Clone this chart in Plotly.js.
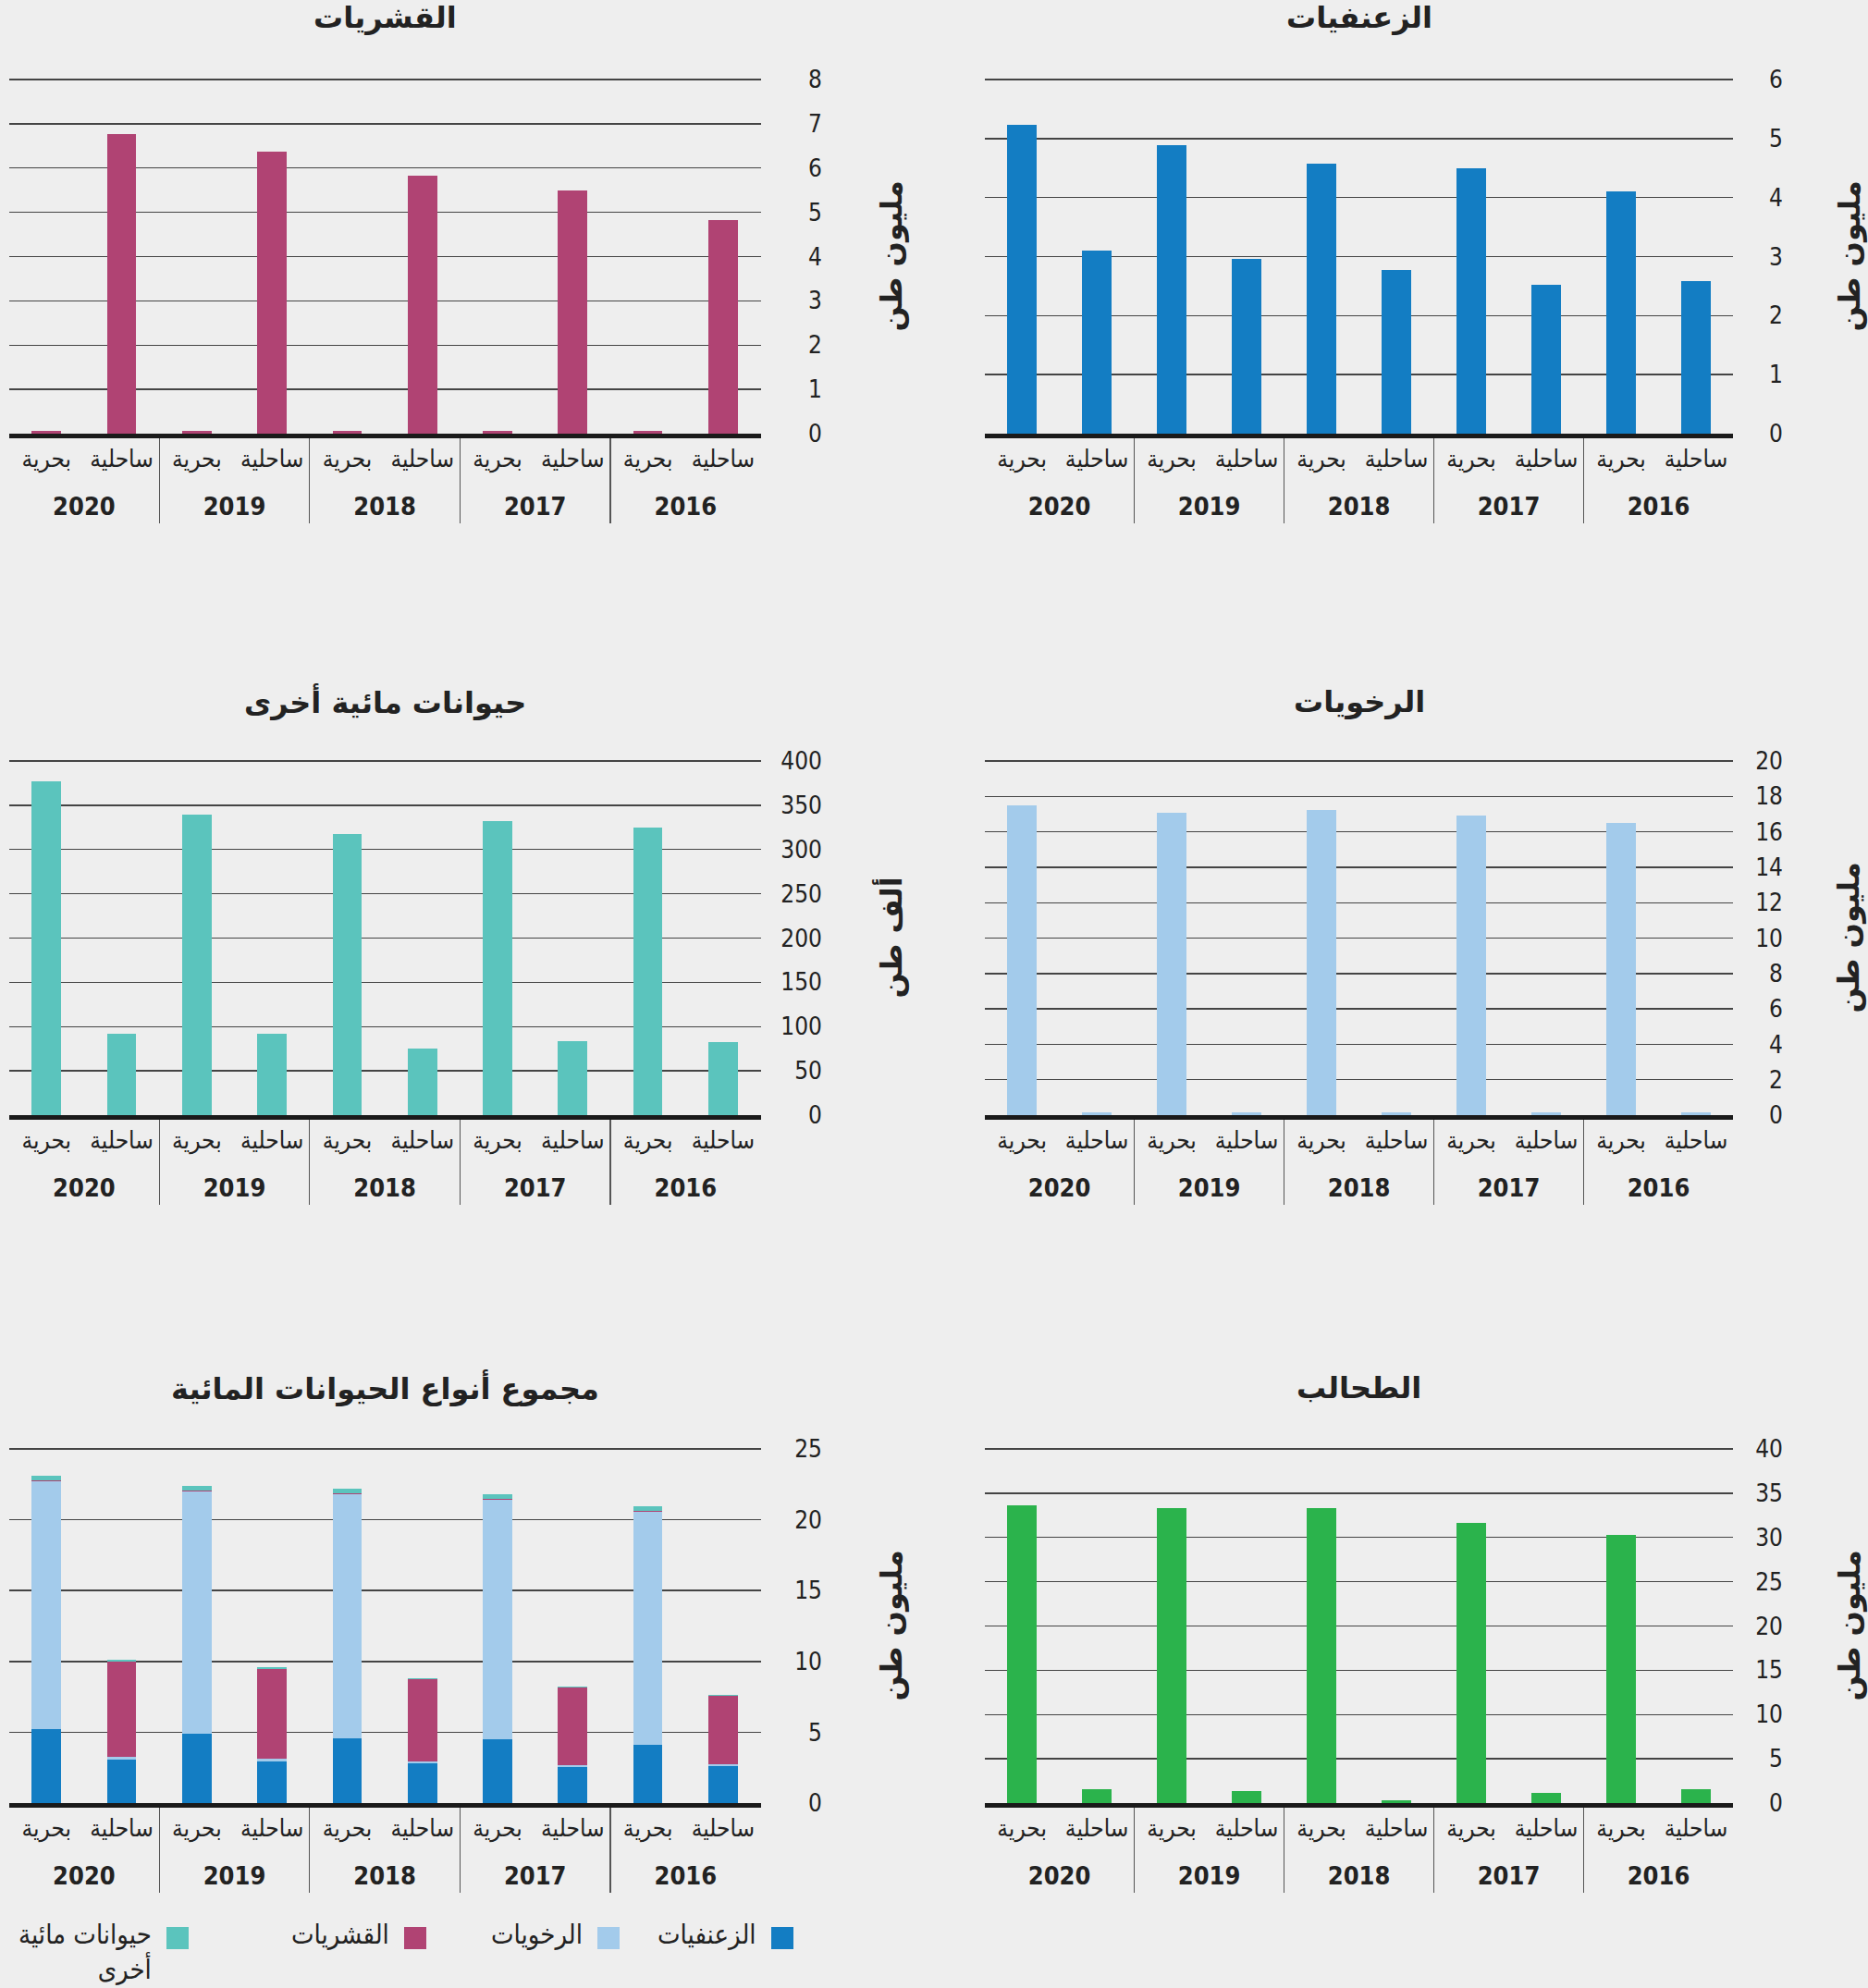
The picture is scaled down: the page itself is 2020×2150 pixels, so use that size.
<!DOCTYPE html>
<html><head><meta charset="utf-8">
<script src="https://cdn.plot.ly/plotly-3.0.1.min.js"></script>
<style>html,body{margin:0;padding:0;background:#eeeeee}</style>
</head><body><div id="chart" style="width:2020px;height:2150px"></div>
<script>
// ---- data ----
const years = ['2020', '2019', '2018', '2017', '2016'];
const types = ['بحرية', 'ساحلية'];

// million tonnes
const finfishMarine = [5.23, 4.89, 4.57, 4.49, 4.11];
const finfishCoastal = [3.10, 2.96, 2.78, 2.52, 2.59];
const crustMarine = [0.06, 0.06, 0.06, 0.06, 0.06];
const crustCoastal = [6.76, 6.38, 5.82, 5.50, 4.83];
const molluscMarine = [17.47, 17.10, 17.22, 16.93, 16.48];
const molluscCoastal = [0.15, 0.15, 0.15, 0.15, 0.15];
const seaweedMarine = [33.6, 33.3, 33.3, 31.6, 30.3];
const seaweedCoastal = [1.57, 1.36, 0.33, 1.16, 1.57];
// thousand tonnes
const otherMarine = [377, 339, 318, 332, 325];
const otherCoastal = [92, 92, 75, 84, 82];

const titles = ['القشريات', 'الزعنفيات', 'حيوانات مائية أخرى', 'الرخويات', 'مجموع أنواع الحيوانات المائية', 'الطحالب'];
const unitMillion = 'مليون طن';
const unitThousand = 'ألف طن';
const legendNames = ['الزعنفيات', 'الرخويات', 'القشريات', 'حيوانات مائية<br>أخرى'];

const C_FIN = '#137dc3', C_MOL = '#a3cbeb', C_CRU = '#b04373', C_OTH = '#5bc4bd', C_SEA = '#2bb34c';
const legendColors = [C_FIN, C_MOL, C_CRU, C_OTH];

// ---- helpers ----
const AX_FS = 20;  // base axis font size (sets line spacing of the two label levels)
function cats() {
  const outer = [], inner = [];
  years.forEach(y => types.forEach(t => {
    outer.push('<br><span style="font-size:27px"><b>' + y + '</b></span>');
    inner.push('<span style="font-size:26px">' + t + '</span>');
  }));
  return [outer, inner];
}
function pair(m, c) { const o = []; m.forEach((v, i) => o.push(v, c[i])); return o; }

const W = 2020, H = 2150, EXT = 4;
const colX = [[9.7, 822.5], [1064.7, 1874.4]];
const tickX = [889, 1928];
const titleX = [963, 1999];
const rows = [[86, 469, 19], [823, 1206, 759], [1567, 1950, 1501]];

const panels = [
  {title: titles[0], unit: unitMillion, col: 0, row: 0, max: 8, dtick: 1,
   series: [{m: crustMarine, c: crustCoastal, color: C_CRU, name: legendNames[2]}]},
  {title: titles[1], unit: unitMillion, col: 1, row: 0, max: 6, dtick: 1,
   series: [{m: finfishMarine, c: finfishCoastal, color: C_FIN, name: legendNames[0]}]},
  {title: titles[2], unit: unitThousand, col: 0, row: 1, max: 400, dtick: 50,
   series: [{m: otherMarine, c: otherCoastal, color: C_OTH, name: 'حيوانات مائية أخرى'}]},
  {title: titles[3], unit: unitMillion, col: 1, row: 1, max: 20, dtick: 2,
   series: [{m: molluscMarine, c: molluscCoastal, color: C_MOL, name: legendNames[1]}]},
  {title: titles[4], unit: unitMillion, col: 0, row: 2, max: 25, dtick: 5,
   series: [
     {m: finfishMarine, c: finfishCoastal, color: C_FIN, name: legendNames[0]},
     {m: molluscMarine, c: molluscCoastal, color: C_MOL, name: legendNames[1]},
     {m: crustMarine, c: crustCoastal, color: C_CRU, name: legendNames[2]},
     {m: otherMarine.map(v => v / 1000), c: otherCoastal.map(v => v / 1000), color: C_OTH, name: 'حيوانات مائية أخرى'}
   ]},
  {title: titles[5], unit: unitMillion, col: 1, row: 2, max: 40, dtick: 5,
   series: [{m: seaweedMarine, c: seaweedCoastal, color: C_SEA, name: 'الطحالب'}]}
];

const FONT = '"Liberation Sans Narrow", "DejaVu Sans Condensed", "DejaVu Sans", sans-serif';
const BOLD = '"DejaVu Sans", "Liberation Sans", sans-serif';

const traces = [];
const annotations = [];
const shapes = [];
const layout = {
  width: W, height: H,
  margin: {l: 0, r: 0, t: 0, b: 0},
  paper_bgcolor: '#eeeeee', plot_bgcolor: '#eeeeee',
  barmode: 'stack', bargap: 0.61, showlegend: false,
  font: {family: FONT, color: '#222', size: 26},
  annotations: annotations, shapes: shapes
};

panels.forEach((p, i) => {
  const n = i + 1;
  const xk = n === 1 ? 'x' : 'x' + n, yk = n === 1 ? 'y' : 'y' + n;
  const xa = n === 1 ? 'xaxis' : 'xaxis' + n, ya = n === 1 ? 'yaxis' : 'yaxis' + n;
  const r = rows[p.row], cx = colX[p.col];
  const len = r[1] - r[0];
  p.series.forEach(s => {
    traces.push({
      type: 'bar', x: cats(), y: pair(s.m, s.c), name: s.name,
      marker: {color: s.color, line: {width: 0}},
      xaxis: xk, yaxis: yk, hoverinfo: 'y'
    });
  });
  layout[xa] = {
    type: 'multicategory', domain: [cx[0] / W, cx[1] / W], anchor: yk,
    range: [-0.499, 9.499],
    showline: true, linecolor: '#1a1a1a', linewidth: 5, showgrid: false, zeroline: false,
    ticks: '', showdividers: true, dividercolor: '#555', dividerwidth: 1.2,
    ticklabelstandoff: 7,
    tickfont: {family: FONT, size: AX_FS, color: '#222'}, fixedrange: true
  };
  // extend the plot a few px above the top gridline so that it is drawn
  layout[ya] = {
    domain: [1 - r[1] / H, 1 - (r[0] - EXT) / H], anchor: 'free', position: tickX[p.col] / W,
    side: 'left', range: [0, p.max * (len + EXT) / len], dtick: p.dtick, tick0: 0,
    showgrid: true, gridcolor: '#444', gridwidth: 1.4, zeroline: false, showline: false,
    ticks: '', tickfont: {family: FONT, size: 26, color: '#222'}, fixedrange: true
  };
  annotations.push({
    xref: 'paper', yref: 'paper', x: (cx[0] + cx[1]) / 2 / W, y: 1 - r[2] / H,
    xanchor: 'center', yanchor: 'middle', showarrow: false, text: '<b>' + p.title + '</b>',
    font: {family: BOLD, size: 32, color: '#222'}
  });
  annotations.push({
    xref: 'paper', yref: 'paper', x: titleX[p.col] / W, y: 1 - (r[0] + r[1]) / 2 / H,
    xanchor: 'center', yanchor: 'middle', showarrow: false, textangle: -90,
    text: '<b>' + p.unit + '</b>', font: {family: BOLD, size: 32, color: '#222'}
  });
});

// custom right-to-left legend (swatch on the right of each label)
const legSwatchX = [834, 646, 437, 180];
const legY = 2096, sw = 24;
legendNames.forEach((name, i) => {
  const x0 = legSwatchX[i];
  shapes.push({
    type: 'rect', xref: 'paper', yref: 'paper',
    x0: x0 / W, x1: (x0 + sw) / W, y0: 1 - (legY + sw / 2) / H, y1: 1 - (legY - sw / 2) / H,
    fillcolor: legendColors[i], line: {width: 0}
  });
  annotations.push({
    xref: 'paper', yref: 'paper', x: (x0 - 14) / W, y: 1 - (legY - 23) / H,
    xanchor: 'right', yanchor: 'top', align: 'right', showarrow: false, text: name,
    font: {family: FONT, size: 29, color: '#222'}
  });
});

Plotly.newPlot('chart', traces, layout, {staticPlot: true, displayModeBar: false});
</script>
</body></html>
